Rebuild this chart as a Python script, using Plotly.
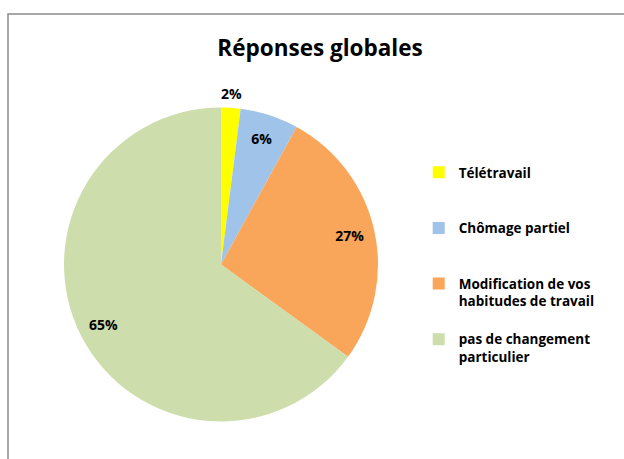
import math
import plotly.graph_objects as go

# --- Données ---
categories = ['Télétravail', 'Chômage partiel', 'Modification de vos<br>habitudes de travail',
              'pas de changement<br>particulier']
values = [2, 6, 27, 65]
colors = ['#FFFF00', '#9FC3E9', '#FAA65A', '#CDDDAC']

FONT = 'Open Sans'
W, H = 624, 459

# zone du camembert (pixels)
PIE_X = [64, 378]
PIE_Y = [107, 422]
domain = dict(x=[PIE_X[0] / W, PIE_X[1] / W], y=[1 - PIE_Y[1] / H, 1 - PIE_Y[0] / H])

# espace vertical entre les entrées de la légende
legend_labels = [c + '<br> ' * (3 - c.count('<br>') - 1) for c in categories]

label_font = dict(family=FONT, size=14, color='black', weight='bold')

fig = go.Figure()

# camembert coloré
fig.add_trace(go.Pie(
    labels=legend_labels,
    values=values,
    sort=False,
    direction='clockwise',
    rotation=0,
    marker=dict(colors=colors, line=dict(width=0)),
    textinfo='none',
    domain=domain,
    hoverinfo='skip',
))

# anneau transparent : place les étiquettes intérieures vers le bord
fig.add_trace(go.Pie(
    labels=legend_labels,
    values=values,
    sort=False,
    direction='clockwise',
    rotation=0,
    hole=0.68,
    marker=dict(colors=['rgba(0,0,0,0)'] * len(values), line=dict(width=0)),
    texttemplate=['', '%{value}%', '%{value}%', '%{value}%'],
    textposition='inside',
    insidetextorientation='horizontal',
    textfont=label_font,
    domain=domain,
    showlegend=False,
    hoverinfo='skip',
))

# petite part : étiquette au-dessus, centrée sur la part
cx = (domain['x'][0] + domain['x'][1]) / 2
cy = (domain['y'][0] + domain['y'][1]) / 2
r_px = (PIE_X[1] - PIE_X[0]) / 2
mid = (values[0] / 2) / sum(values) * 2 * math.pi
r_lab = r_px * 1.09
fig.add_annotation(
    x=cx + r_lab * math.sin(mid) / W, y=cy + r_lab * math.cos(mid) / H,
    xref='paper', yref='paper', xanchor='center', yanchor='middle',
    text=f'{values[0]}%', showarrow=False,
    font=label_font,
)

fig.update_layout(
    width=W, height=H,
    margin=dict(t=0, l=0, r=0, b=0),
    title=dict(text='<b>Réponses globales</b>', x=320 / W, xanchor='center', y=1 - 48 / H, yanchor='middle',
               font=dict(family=FONT, size=22.5, color='black')),
    legend=dict(x=0.671, y=0.658, xanchor='left', yanchor='top', valign='top',
                font=dict(family=FONT, size=13.5, color='black', weight='bold'),
                itemwidth=30),
    paper_bgcolor='white',
    plot_bgcolor='white',
    shapes=[dict(type='rect', xref='paper', yref='paper', x0=8 / W, x1=1.05, y0=-0.05, y1=1 - 14 / H,
                 line=dict(color='#8C8C8C', width=1.5))],
)

fig.write_html("out.html", config={'displayModeBar': False},
               post_script="document.body.style.margin='0';")
